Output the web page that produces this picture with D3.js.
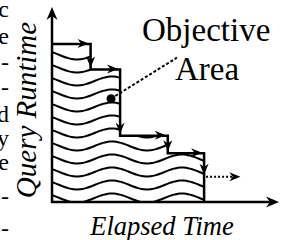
<!DOCTYPE html>
<html><head><meta charset="utf-8">
<script src="https://cdn.jsdelivr.net/npm/d3@7"></script>
<style>html,body{margin:0;padding:0;background:#fff;overflow:hidden}</style>
</head><body><svg width="292" height="240"></svg>
<script>
// elapsed time where each step ends, and the query runtime of each step (0-100 units)
const stepEnds = [17, 30, 51, 67];
const stepLevels = [81, 68, 34, 25];
const objectivePoint = [26, 53];
const leaderEnd = [55, 74];
const continueFrom = [67, 13];
const continueTo = [83, 13];
const xLabel = "Elapsed Time";
const yLabel = "Query Runtime";
const areaLabel = ["Objective", "Area"];
// cut-off line endings of the neighbouring text column
const marginChars = ["c", "e", "-", "-", "d", "y", "e", "-", "-"];
const marginY = [17, 44, 70, 95, 122, 146, 170, 204, 236];

const svg = d3.select("svg");
const x = d3.scaleLinear().domain([0, 100]).range([52, 279]);
const y = d3.scaleLinear().domain([0, 100]).range([202, 7]);

function head(tx, ty, dir, len = 11, hw = 4.5) {
  // notched arrow head, dir in radians (0 = right)
  const c = Math.cos(dir), s = Math.sin(dir);
  const p = (a, b) => [tx + a * c - b * s, ty + a * s + b * c];
  const pts = [p(0, 0), p(-len, -hw), p(-len * 0.7, 0), p(-len, hw)];
  return "M" + pts.map(d => d.join(",")).join("L") + "Z";
}

// staircase outline
let stair = `M${x(0)},${y(stepLevels[0])}`;
stepEnds.forEach((e, i) => {
  const next = i + 1 < stepLevels.length ? stepLevels[i + 1] : 0;
  stair += `H${x(e)}V${y(next)}`;
});
const area = stair + `H${x(0)}Z`;

svg.append("clipPath").attr("id", "clip").append("path").attr("d", area);

// wavy hatching
const waves = svg.append("g").attr("clip-path", "url(#clip)");
const line = d3.line().curve(d3.curveBasis);
for (let i = 0; i < 12; i++) {
  const base = 55 + i * 13;
  const pts = d3.range(x(0) - 4, x(stepEnds[3]) + 6, 2).map(px =>
    [px, base - 4.5 * Math.cos(2 * Math.PI * (px - 112) / 70)]);
  waves.append("path").attr("d", line(pts))
    .attr("fill", "none").attr("stroke", "#000").attr("stroke-width", 2);
}

svg.append("path").attr("d", stair)
  .attr("fill", "none").attr("stroke", "#000").attr("stroke-width", 2.5);

// step arrows
stepEnds.forEach((e, i) => {
  svg.append("path").attr("d", head(x(e) - 2, y(stepLevels[i]) - 0.5, 0));
  const next = i + 1 < stepLevels.length ? stepLevels[i + 1] : continueFrom[1];
  svg.append("path").attr("d", head(x(e), y(next) - 2, Math.PI / 2));
});

// dotted continuation
svg.append("line")
  .attr("x1", x(continueFrom[0]) + 2).attr("y1", y(continueFrom[1]))
  .attr("x2", x(continueTo[0]) - 8).attr("y2", y(continueTo[1]))
  .attr("stroke", "#000").attr("stroke-width", 2).attr("stroke-dasharray", "2,2");
svg.append("path").attr("d", head(x(continueTo[0]), y(continueTo[1]), 0));

// axes
svg.append("line").attr("x1", x(0)).attr("y1", y(0) + 1).attr("x2", x(0)).attr("y2", y(100) + 8)
  .attr("stroke", "#000").attr("stroke-width", 2.5);
svg.append("path").attr("d", head(x(0), y(100), -Math.PI / 2, 13, 5.5));
svg.append("line").attr("x1", x(0) - 1).attr("y1", y(0)).attr("x2", x(100) - 8).attr("y2", y(0))
  .attr("stroke", "#000").attr("stroke-width", 2.5);
svg.append("path").attr("d", head(x(100), y(0), 0, 13, 5.5));

// objective area annotation
svg.append("line")
  .attr("x1", x(objectivePoint[0])).attr("y1", y(objectivePoint[1]))
  .attr("x2", x(leaderEnd[0])).attr("y2", y(leaderEnd[1]))
  .attr("stroke", "#000").attr("stroke-width", 2).attr("stroke-dasharray", "3,2");
svg.append("circle").attr("cx", x(objectivePoint[0])).attr("cy", y(objectivePoint[1])).attr("r", 4.5);

const serif = "'Liberation Serif', 'Times New Roman', serif";
svg.append("text").attr("x", 142).attr("y", 41).text(areaLabel[0])
  .attr("font-family", serif).attr("font-size", 33);
svg.append("text").attr("x", 175).attr("y", 80).text(areaLabel[1])
  .attr("font-family", serif).attr("font-size", 33);

svg.append("text").attr("x", 162).attr("y", 235).attr("text-anchor", "middle").text(xLabel)
  .attr("font-family", serif).attr("font-size", 26.5).attr("font-style", "italic");
svg.append("text").attr("transform", "translate(36,110) rotate(-90)").attr("text-anchor", "middle")
  .text(yLabel).attr("font-family", serif).attr("font-size", 29).attr("font-style", "italic");

svg.selectAll(".margin").data(marginChars).join("text")
  .attr("x", 9).attr("y", (d, i) => marginY[i]).attr("text-anchor", "end")
  .attr("font-family", serif).attr("font-size", 24).text(d => d);
</script>
</body></html>
